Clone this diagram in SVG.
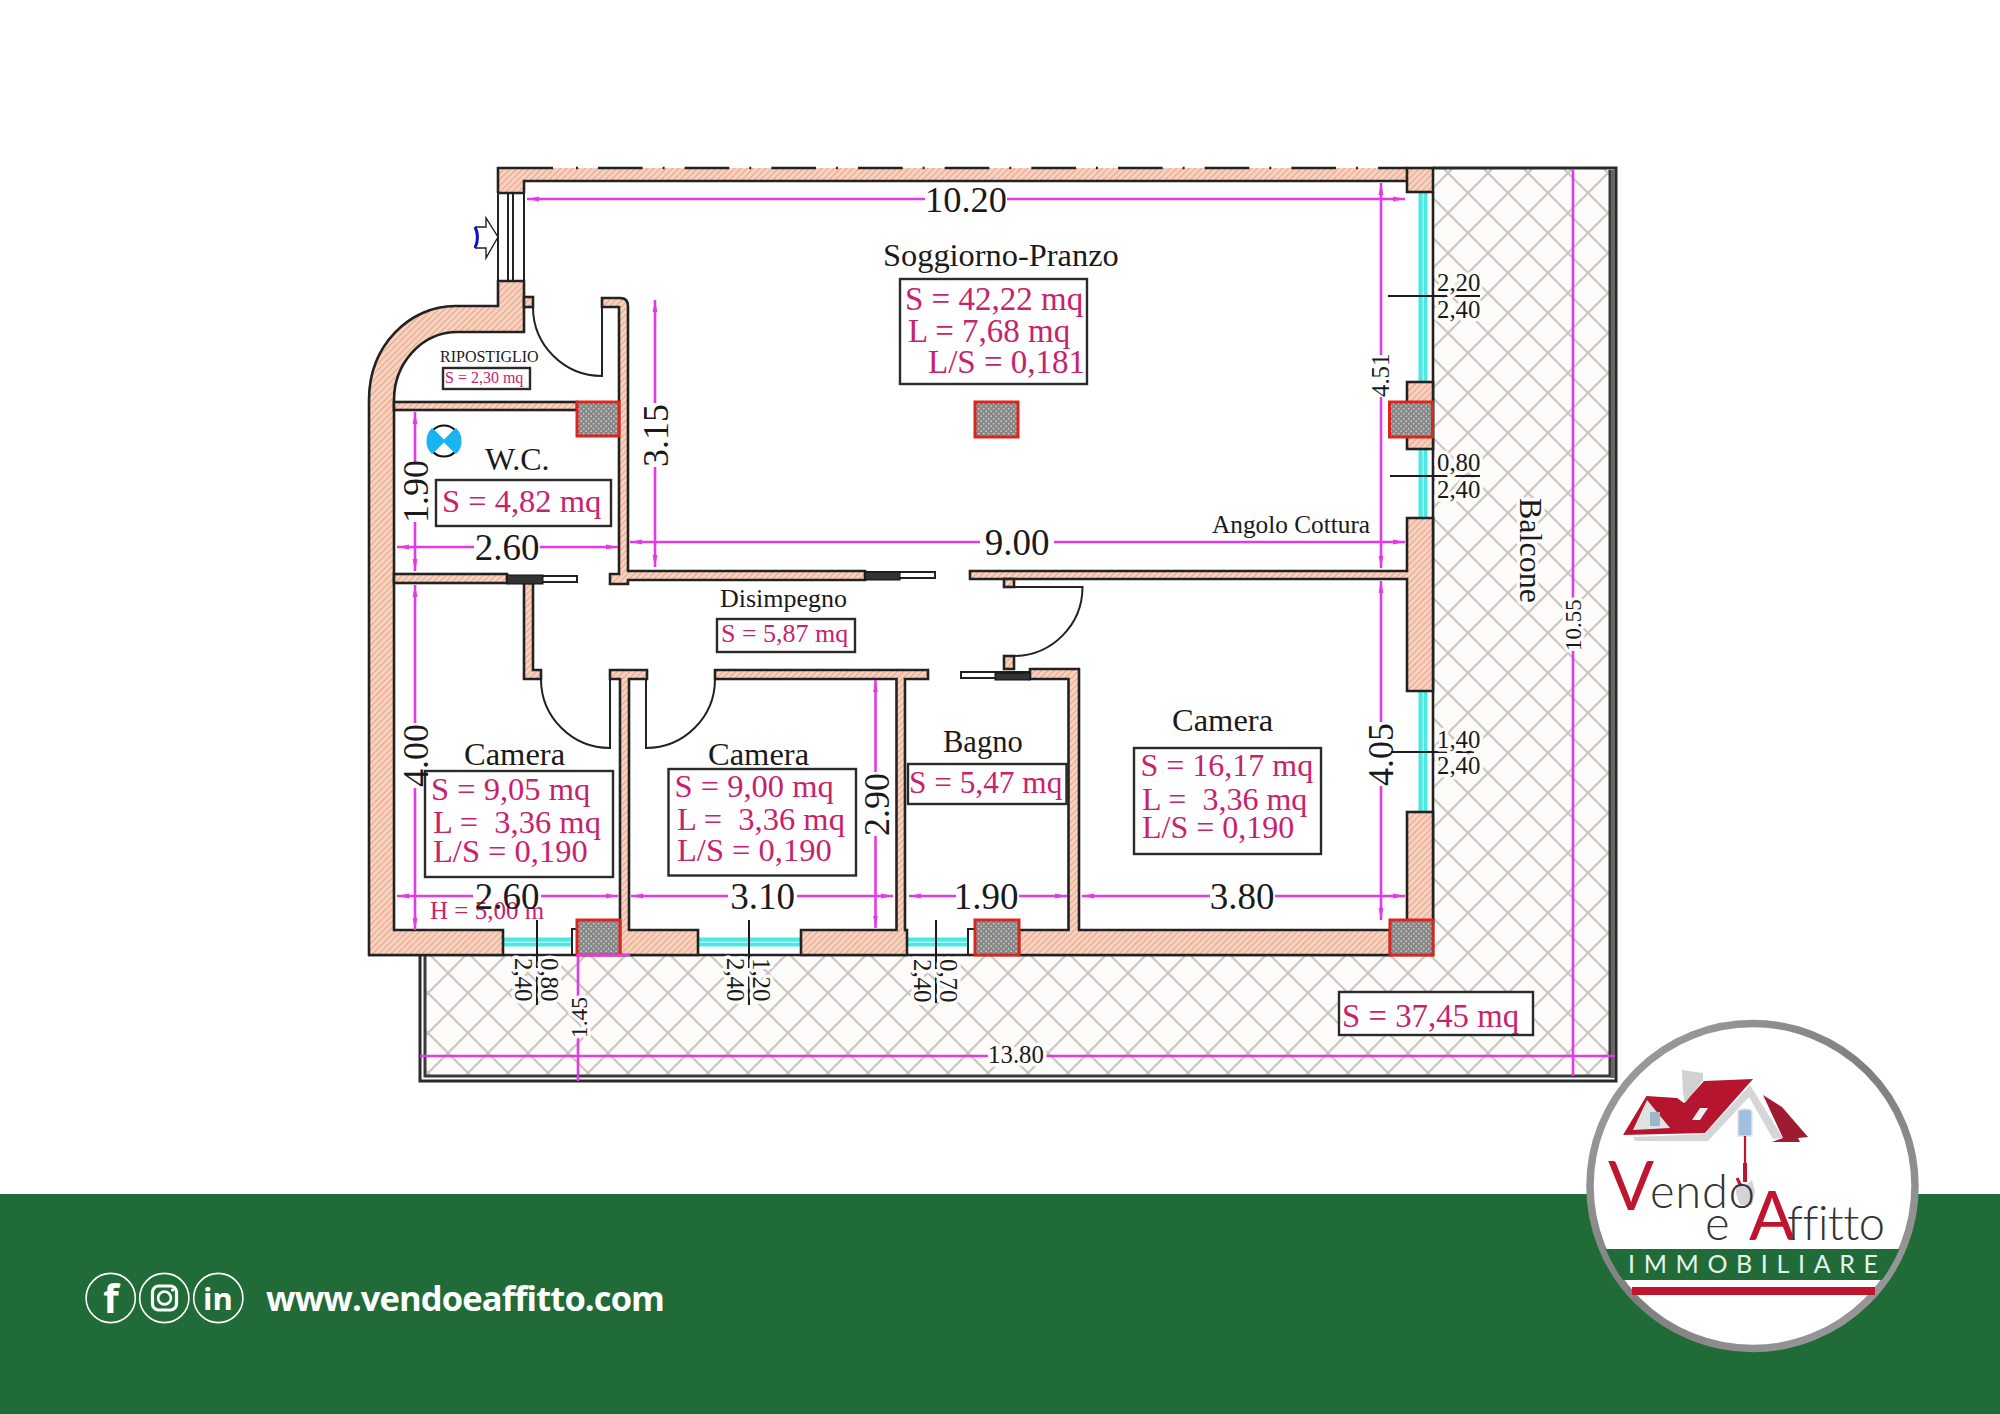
<svg xmlns="http://www.w3.org/2000/svg" width="2000" height="1414" viewBox="0 0 2000 1414">
<style>
.bg{fill:#fff}
.wall{fill:url(#hatch);stroke:#222;stroke-width:2.6;stroke-linejoin:miter}
.wf{fill:url(#hatch);stroke:none}
.ln{fill:none;stroke:#222;stroke-width:2.6}
.thin{fill:none;stroke:#222;stroke-width:2}
.shaft{fill:url(#dots);stroke:#d9261f;stroke-width:3}
.box{fill:#fff;stroke:#2a2a2a;stroke-width:2.4}
.dim{fill:none;stroke:#e23ae6;stroke-width:2.6}
.s{marker-start:url(#ah)}
.e{marker-end:url(#ah)}
.leader{fill:none;stroke:#1c1c1c;stroke-width:2}
.glass{fill:#4aeae4}
.glassin{fill:#a6f6f2}
text{font-family:"Liberation Serif","Times New Roman",serif;fill:#1a1a1a;white-space:pre}
.m{fill:#c9226d}
.t32{font-size:32.5px}
.t26{font-size:26px}
.t16{font-size:16px}
.d37{font-size:37px}
.d36{font-size:36px}
.d25{font-size:24.8px}
.halo{paint-order:stroke;stroke:#fdfcfa;stroke-width:7px;stroke-linejoin:round}
.mid{text-anchor:middle}
.sans{font-family:"Lato","Open Sans",sans-serif;font-variant-ligatures:none}
</style>
<defs>
<pattern id="hatch" width="4.4" height="4.4" patternUnits="userSpaceOnUse" patternTransform="rotate(45)">
<rect width="4.4" height="4.4" fill="#f8d3c1"/><rect width="1.2" height="4.4" fill="#e8a98d"/>
</pattern>
<pattern id="dots" width="5" height="5" patternUnits="userSpaceOnUse">
<rect width="5" height="5" fill="#858585"/><circle cx="1.2" cy="1.2" r="1" fill="#c4c4c4"/><circle cx="3.7" cy="3.7" r="1" fill="#c4c4c4"/>
</pattern>
<pattern id="cross" width="40" height="40" patternUnits="userSpaceOnUse" patternTransform="translate(28,33)">
<rect width="40" height="40" fill="#fdfcfa"/><path d="M0,0L40,40M0,40L40,0" stroke="#cbc7c0" stroke-width="2.2" fill="none"/>
</pattern>
<marker id="ah" markerUnits="userSpaceOnUse" markerWidth="14" markerHeight="8" refX="14" refY="4" orient="auto-start-reverse" viewBox="0 0 14 8">
<path d="M14,4L2,1.6V6.4Z" fill="#e23ae6"/>
</marker>
<clipPath id="disc"><circle cx="1752.5" cy="1186" r="160"/></clipPath>
<linearGradient id="ring" x1="0" y1="0" x2="1" y2="1"><stop offset="0" stop-color="#a2a2a2"/><stop offset="0.5" stop-color="#7f7f7f"/><stop offset="1" stop-color="#a0a0a0"/></linearGradient>
</defs>

<rect class="bg" width="2000" height="1414"/>
<rect id="footer-band" x="0" y="1194" width="2000" height="220" fill="#206b38"/>

<g id="balcony">
<path d="M1433,168H1610V1076H425V955H1433Z" fill="url(#cross)"/>
<path d="M1433,168H1616V1081H420V955" fill="none" stroke="#2a2a2a" stroke-width="3"/>
<path d="M1610,170V1076H425V955" fill="none" stroke="#3a3a3a" stroke-width="3"/>
<path d="M1613,170V1078" fill="none" stroke="#666" stroke-width="4"/>
</g>

<g id="glazing">
<rect class="glass" x="1418.500" y="192" width="9" height="190"/><rect class="glassin" x="1422.500" y="192" width="1.5" height="190"/>
<rect class="glass" x="1418.500" y="449" width="9" height="69"/><rect class="glassin" x="1422.500" y="449" width="1.5" height="69"/>
<rect class="glass" x="1418.500" y="691" width="9" height="121"/><rect class="glassin" x="1422.500" y="691" width="1.5" height="121"/>
<rect class="glass" x="503" y="937.500" width="69" height="9"/><rect class="glassin" x="503" y="941.500" width="69" height="1.5"/>
<rect class="glass" x="698" y="937.500" width="103" height="9"/><rect class="glassin" x="698" y="941.500" width="103" height="1.5"/>
<rect class="glass" x="907" y="937.500" width="61" height="9"/><rect class="glassin" x="907" y="941.500" width="61" height="1.5"/>
</g>

<g id="walls">
<path class="wf" d="M498,168H1407V181H524V193H498Z"/>
<path class="ln" d="M1433,192V955H368M498,193V168H553M576,168H578M524,193V181H1407M498,193H524"/>
<path class="ln" d="M598,168H1407" stroke-dasharray="44.6 20 2 20.07"/>
<rect class="wall" x="1407" y="168" width="26" height="24"/>
<path class="wall" d="M498,281H524V332H458C420,332 394,365 394,400V930H503V955H369V400C369,345 410,306 455,306H498Z"/>
<rect class="wall" x="524" y="297" width="9" height="10"/>
<rect class="wall" x="394" y="402" width="183" height="8"/>
<path class="wall" d="M602,307V298H620Q628,298 628,306V571H865V580H628V584H610V574H619V307Z"/>
<rect class="wall" x="394" y="574" width="113" height="9"/>
<path class="wall" d="M524,583H533V670H541V679H524Z"/>
<path class="wall" d="M620,679H610V670H647V679H629V930H698V955H620Z"/>
<path class="wall" d="M715,670H928V679H905V930H907V955H801V930H896.5V679H715Z"/>
<path class="wall" d="M1030,669H1079V930H1390V955H1019V930H1068.5V679H1030Z"/>
<path class="wall" d="M970,571H1407V518H1433V691H1407V579H970Z"/>
<rect class="wall" x="1407" y="382" width="26" height="67"/>
<rect class="wall" x="1407" y="812" width="26" height="110"/>
<rect class="wall" x="1004" y="579" width="10" height="8"/>
<rect class="wall" x="1004" y="656" width="10" height="13"/>
<path class="thin" d="M572,955V929H577M968,955V929H975"/>
<path class="thin" d="M503,930V955M698,930V955M801,930V955M907,930V955"/>
</g>

<g id="entrance">
<path class="thin" d="M498,193V281M524,193V281M508,193V281M513,193V281M498,281H524"/>
<path d="M475,227H486V218L498,237L486,258V248H475" fill="#fff" stroke="#222" stroke-width="1.4"/>
<path d="M475,227Q480,237 475,248" fill="none" stroke="#1111cc" stroke-width="3"/>
</g>

<g id="doors">
<path class="thin" d="M533,307A69,69 0 0 0 602,376V307"/>
<path class="thin" d="M610,679V748A69,69 0 0 1 541,679"/>
<path class="thin" d="M646,679V748A69,69 0 0 0 715,679"/>
<path class="thin" d="M1014,587H1082.5A69,69 0 0 1 1014,656"/>
<rect x="507" y="576" width="70" height="6" fill="#fff" stroke="#222" stroke-width="2"/>
<rect x="507" y="575" width="36" height="9" fill="#333" stroke="#111" stroke-width="1"/>
<rect x="865" y="572" width="70" height="6" fill="#fff" stroke="#222" stroke-width="2"/>
<rect x="865" y="572" width="35" height="8" fill="#333" stroke="#111" stroke-width="1"/>
<rect x="961" y="672" width="69" height="6" fill="#fff" stroke="#222" stroke-width="2"/>
<rect x="995" y="673" width="35" height="7" fill="#333" stroke="#111" stroke-width="1"/>
</g>

<g id="shafts">
<rect class="shaft" x="577" y="402" width="42" height="34"/>
<rect class="shaft" x="975" y="402" width="43" height="35"/>
<rect class="shaft" x="1389.5" y="402" width="43" height="35"/>
<rect class="shaft" x="577" y="920" width="43" height="35"/>
<rect class="shaft" x="975" y="920" width="44" height="35"/>
<rect class="shaft" x="1390" y="920" width="43" height="35"/>
</g>

<g id="wc-fixture">
<circle cx="444" cy="441" r="15.5" fill="#fff" stroke="#111" stroke-width="2.2"/>
<path d="M444,441L433,430A16,16 0 0 0 433,452Z" fill="#19b5f0" stroke="#19b5f0" stroke-width="2"/>
<path d="M444,441L455,430A16,16 0 0 1 455,452Z" fill="#19b5f0" stroke="#19b5f0" stroke-width="2"/>
<path d="M428,441A16,16 0 0 1 433,429M460,441A16,16 0 0 0 455,429M428,441A16,16 0 0 0 433,453M460,441A16,16 0 0 1 455,453" fill="none" stroke="#19b5f0" stroke-width="3"/>
</g>

<g id="connectors">
<path class="dim s" d="M527,199H925"/><path class="dim e" d="M1007,199H1405"/>
<path class="dim s" d="M630,542H980"/><path class="dim e" d="M1054,542H1405"/>
<path class="dim s" d="M655,300V403"/><path class="dim e" d="M655,467V567"/>
<path class="dim s" d="M397,547H474"/><path class="dim e" d="M540,547H618"/>
<path class="dim s" d="M415,412V463"/><path class="dim e" d="M415,522V571"/>
<path class="dim s" d="M415,585V723"/><path class="dim e" d="M415,788V930"/>
<path class="dim s" d="M397,896H473"/><path class="dim e" d="M541,896H618"/>
<path class="dim s" d="M631,896H728"/><path class="dim e" d="M797,896H893"/>
<path class="dim s" d="M875.5,680V772"/><path class="dim e" d="M875.5,836V928"/>
<path class="dim s" d="M909,896H956"/><path class="dim e" d="M1019,896H1067"/>
<path class="dim s" d="M1082,896H1210"/><path class="dim e" d="M1275,896H1405"/>
<path class="dim s" d="M1381,183V355"/><path class="dim e" d="M1381,397V568"/>
<path class="dim s" d="M1381,581V722"/><path class="dim e" d="M1381,786V920"/>
<path class="dim" d="M1573,170V599M1573,651V1076"/>
<path class="dim" d="M420,1056H988M1044,1056H1615"/>
<path class="dim" d="M578,955V998M578,1038V1081M577,955H630"/>
<path class="leader" d="M537,920V1005M749,920V1005M936,920V1003M1388,296H1480M1390,476H1480M1391,752H1474"/>
</g>

<g id="room-soggiorno">
<text class="t32" x="883" y="266" style="font-size:32.4px">Soggiorno-Pranzo</text>
<rect class="box" x="900" y="279" width="187" height="105"/>
<text class="t32 m" x="905" y="310" style="font-size:33px">S = 42,22 mq</text>
<text class="t32 m" x="908" y="342" style="font-size:33px">L = 7,68 mq</text>
<text class="t32 m" x="928" y="373" style="font-size:33px">L/S = 0,181</text>
</g>
<g id="room-ripostiglio">
<text class="t16" x="440" y="362">RIPOSTIGLIO</text>
<rect class="box" x="443" y="368" width="87" height="21"/>
<text class="t16 m" x="445" y="383">S = 2,30 mq</text>
</g>
<g id="room-wc">
<text class="t32" x="485" y="470" style="font-size:32px">W.C.</text>
<rect class="box" x="436" y="480" width="175" height="46"/>
<text class="t32 m" x="442" y="512">S = 4,82 mq</text>
</g>
<g id="room-disimpegno">
<text class="t26" x="720" y="607">Disimpegno</text>
<rect class="box" x="717" y="619" width="138" height="33"/>
<text class="t26 m" x="721" y="642">S = 5,87 mq</text>
</g>
<g id="room-camera-1">
<text class="t32" x="464" y="765">Camera</text>
<rect class="box" x="425" y="771" width="188" height="106"/>
<text class="t32 m" x="431" y="800">S = 9,05 mq</text>
<text class="t32 m" x="433" y="833">L =  3,36 mq</text>
<text class="t32 m" x="433" y="862">L/S = 0,190</text>
<text class="t26 m" x="430" y="919" style="font-size:25px">H = 5,00 m</text>
</g>
<g id="room-camera-2">
<text class="t32" x="708" y="765">Camera</text>
<rect class="box" x="668.5" y="769" width="187.5" height="106.500"/>
<text class="t32 m" x="674.5" y="797">S = 9,00 mq</text>
<text class="t32 m" x="677" y="830">L =  3,36 mq</text>
<text class="t32 m" x="677" y="861">L/S = 0,190</text>
</g>
<g id="room-bagno">
<text class="t32" x="943" y="752" style="font-size:30.5px">Bagno</text>
<rect class="box" x="908" y="764" width="158.5" height="40"/>
<text class="t32 m" x="909" y="793" style="font-size:31.3px">S = 5,47 mq</text>
</g>
<g id="room-camera-3">
<text class="t32" x="1172" y="731">Camera</text>
<rect class="box" x="1134" y="748" width="187" height="106"/>
<text class="t32 m" x="1140.5" y="776" style="font-size:32px">S = 16,17 mq</text>
<text class="t32 m" x="1142" y="810" style="font-size:32px">L =  3,36 mq</text>
<text class="t32 m" x="1142" y="838" style="font-size:32px">L/S = 0,190</text>
</g>
<g id="room-angolo">
<text x="1212" y="533" style="font-size:25.3px">Angolo Cottura</text>
</g>
<g id="room-balcone">
<text class="halo" transform="translate(1520,498) rotate(90)" style="font-size:32px">Balcone</text>
<rect class="box" x="1339" y="992" width="194" height="43"/>
<text class="t32 m" x="1342" y="1027" style="font-size:32.8px">S = 37,45 mq</text>
</g>

<g id="dimension-labels">
<text class="d37 mid" x="966" y="212" style="font-size:36.4px">10.20</text>
<text class="d37 mid" x="1017" y="555">9.00</text>
<text class="d36" transform="translate(668,467) rotate(-90)">3.15</text>
<text class="d37 mid" x="507" y="560">2.60</text>
<text class="d36" transform="translate(428,523) rotate(-90)">1.90</text>
<text class="d36" transform="translate(428,787) rotate(-90)">4.00</text>
<text class="d37 mid" x="507" y="909">2.60</text>
<text class="d37 mid" x="762.5" y="909">3.10</text>
<text class="d36" transform="translate(889,836) rotate(-90)">2.90</text>
<text class="d37 mid" x="986" y="909">1.90</text>
<text class="d37 mid" x="1242" y="909">3.80</text>
<text class="d36" transform="translate(1393,786) rotate(-90)">4.05</text>
<text class="d25" transform="translate(1389,397) rotate(-90)">4.51</text>
<text class="d25 halo" transform="translate(1581,651) rotate(-90)" style="font-size:23px">10.55</text>
<text class="d25 mid halo" x="1016" y="1063">13.80</text>
<text class="d25 halo" transform="translate(587,1038) rotate(-90)" style="font-size:23.5px">1.45</text>
<text class="d25 halo" x="1437" y="291">2,20</text>
<text class="d25 halo" x="1437" y="318">2,40</text>
<text class="d25 halo" x="1437" y="471">0,80</text>
<text class="d25 halo" x="1437" y="498">2,40</text>
<text class="d25 halo" x="1437" y="748">1,40</text>
<text class="d25 halo" x="1437" y="774">2,40</text>
<text class="d25 halo" transform="translate(541,958) rotate(90)">0,80</text>
<text class="d25 halo" transform="translate(515,958) rotate(90)">2,40</text>
<text class="d25 halo" transform="translate(753,958) rotate(90)">1,20</text>
<text class="d25 halo" transform="translate(727,958) rotate(90)">2,40</text>
<text class="d25 halo" transform="translate(940,959) rotate(90)">0,70</text>
<text class="d25 halo" transform="translate(914,959) rotate(90)">2,40</text>
</g>

<g id="social">
<circle cx="110.7" cy="1298" r="24.6" fill="none" stroke="#fff" stroke-width="1.6"/>
<circle cx="164.3" cy="1298" r="24.6" fill="none" stroke="#fff" stroke-width="1.6"/>
<circle cx="218.3" cy="1298" r="24.6" fill="none" stroke="#fff" stroke-width="1.6"/>
<text x="111" y="1313" style="font-family:'Open Sans',sans-serif;font-size:40px;font-weight:700;fill:#fff;text-anchor:middle">f</text>
<rect x="152.5" y="1286" width="24" height="24" rx="6" fill="none" stroke="#fff" stroke-width="3.2"/>
<circle cx="164.5" cy="1298" r="6.4" fill="none" stroke="#fff" stroke-width="2.6"/>
<circle cx="172.5" cy="1290" r="1.6" fill="#fff"/>
<text x="218" y="1310" style="font-family:'Open Sans',sans-serif;font-size:31px;font-weight:700;fill:#fff;text-anchor:middle">in</text>
<text x="266" y="1311" textLength="399" lengthAdjust="spacing" style="font-family:'Open Sans',sans-serif;font-size:34.5px;font-weight:700;fill:#fff;font-variant-ligatures:none">www.vendoeaffitto.com</text>
</g>

<g id="logo">
<circle cx="1752.5" cy="1186" r="162.5" fill="#fff" stroke="url(#ring)" stroke-width="7.5"/>
<g clip-path="url(#disc)">
<rect x="1590" y="1249" width="330" height="31" fill="#206b38"/>
</g>
<rect x="1632" y="1287" width="243" height="8" fill="#c0152f"/>
<g id="logo-house">
<path d="M1623,1135L1646.500,1096L1677,1098L1684,1103L1704,1081L1753,1079L1705,1133Z" fill="#b5152e"/>
<path d="M1763,1095L1782,1107L1808,1137L1798,1138L1800,1142L1772,1142L1783,1138Z" fill="#9e1b32"/>
<path d="M1633,1137L1705,1134L1750,1085L1783,1138L1773,1139L1749,1097L1708,1141L1635,1141Z" fill="#d6d6d6"/>
<path d="M1682,1070L1703,1073V1080L1685,1103L1683,1093Z" fill="#cfd2d0"/>
<path d="M1647,1100L1633,1130L1670,1128Z" fill="#dfe3e3"/>
<rect x="1650" y="1112" width="10" height="14" fill="#9db6c9"/>
<path d="M1700,1108H1708L1700,1120H1692Z" fill="#eef0f0"/>
<path d="M1738,1136V1112Q1738,1109 1745,1109Q1752,1109 1752,1112V1136Z" fill="#9fc0de" stroke="#e3e3e3" stroke-width="1.5"/>
<path d="M1745,1136V1163" stroke="#c0152f" stroke-width="2.2" fill="none"/>
<path d="M1745,1163V1182" stroke="#c0152f" stroke-width="4" fill="none"/>
<path d="M1737,1179L1745,1186L1752,1180L1755,1192L1752,1205H1740L1736,1193Z" fill="#d4d4d4"/>
<path d="M1737,1178L1741,1186" stroke="#c0152f" stroke-width="3" fill="none"/>
</g>
<text class="sans" x="1608" y="1210" style="font-size:68px;font-weight:400;fill:#c0152f">V</text>
<text class="sans" x="1650" y="1208" textLength="105" lengthAdjust="spacing" style="font-size:47px;font-weight:300;fill:#333">endo</text>
<text class="sans" x="1705" y="1240" style="font-size:47px;font-weight:300;fill:#333">e</text>
<text class="sans" x="1749" y="1240" style="font-size:68px;font-weight:400;fill:#c0152f">A</text>
<text class="sans" x="1787" y="1240" textLength="98" lengthAdjust="spacing" style="font-size:47px;font-weight:300;fill:#333">ffitto</text>
<text class="sans" x="1628" y="1273" textLength="250" lengthAdjust="spacing" style="font-size:25px;font-weight:400;fill:#e6f6ea">IMMOBILIARE</text>
</g>
</svg>
